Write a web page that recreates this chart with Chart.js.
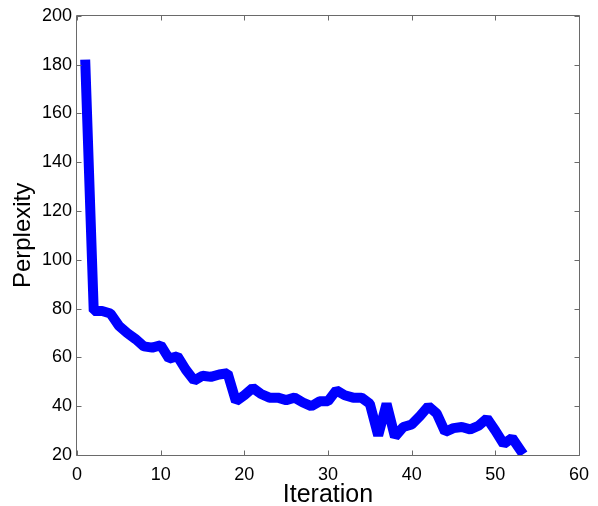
<!DOCTYPE html>
<html>
<head>
<meta charset="utf-8">
<script src="https://cdn.jsdelivr.net/npm/chart.js@4/dist/chart.umd.min.js"></script>
<style>
  html, body { margin: 0; padding: 0; background: #ffffff; }
  canvas { display: block; }
</style>
</head>
<body>
<canvas id="chart" width="598" height="506"></canvas>
<script>
// Perplexity per training iteration
const iterations = [
  1, 2, 3, 4, 5, 6, 7, 8, 9, 10,
  11, 12, 13, 14, 15, 16, 17, 18, 19, 20,
  21, 22, 23, 24, 25, 26, 27, 28, 29, 30,
  31, 32, 33, 34, 35, 36, 37, 38, 39, 40,
  41, 42, 43, 44, 45, 46, 47, 48, 49, 50,
  51, 52, 53
];
const perplexity = [
  180, 79, 79, 78, 73, 70, 67.5, 64.5, 64, 65,
  59.5, 60.5, 55, 50.5, 52.5, 52, 53, 53.5, 42, 44.5,
  47.5, 45, 43.5, 43.5, 42.5, 43.5, 41.5, 40, 42, 42,
  46.5, 44.5, 43.5, 43.5, 41, 28, 41, 27.5, 31.5, 32.5,
  36, 40, 37, 29.5, 31, 31.5, 30.5, 32, 35, 30,
  24.5, 27, 22
];
const xTicks = [0, 10, 20, 30, 40, 50, 60];
const yTicks = [20, 40, 60, 80, 100, 120, 140, 160, 180, 200];
const xTitle = 'Iteration';
const yTitle = 'Perplexity';

const axisColor = '#6a6a6a';
const fontFamily = '"Liberation Sans", Arial, Helvetica, sans-serif';

Chart.defaults.font.family = fontFamily;
Chart.defaults.color = '#000000';

// Box around the plot area with inward-pointing ticks on all four sides
const boxedAxes = {
  id: 'boxedAxes',
  afterDatasetsDraw(chart) {
    const { ctx, chartArea, scales } = chart;
    const L = Math.round(chartArea.left) - 0.5;
    const R = Math.round(chartArea.right) + 0.5;
    const T = Math.round(chartArea.top) - 0.5;
    const B = Math.round(chartArea.bottom) + 0.5;
    const len = 5;
    ctx.save();
    ctx.strokeStyle = axisColor;
    ctx.lineWidth = 1;
    ctx.beginPath();
    ctx.rect(L, T, R - L, B - T);
    xTicks.forEach(v => {
      const px = Math.round(scales.x.getPixelForValue(v)) + 0.5;
      ctx.moveTo(px, B); ctx.lineTo(px, B - len);
      ctx.moveTo(px, T); ctx.lineTo(px, T + len);
    });
    yTicks.forEach(v => {
      const py = Math.round(scales.y.getPixelForValue(v)) + 0.5;
      ctx.moveTo(L, py); ctx.lineTo(L + len, py);
      ctx.moveTo(R, py); ctx.lineTo(R - len, py);
    });
    ctx.stroke();
    ctx.restore();
  }
};

new Chart(document.getElementById('chart'), {
  type: 'line',
  data: {
    datasets: [{
      data: iterations.map((it, i) => ({ x: it, y: perplexity[i] })),
      borderColor: '#0000ff',
      backgroundColor: '#0000ff',
      borderWidth: 10,
      borderCapStyle: 'square',
      borderJoinStyle: 'bevel',
      pointRadius: 0,
      pointHoverRadius: 0,
      tension: 0,
      fill: false,
      clip: 0
    }]
  },
  options: {
    responsive: false,
    animation: false,
    events: [],
    layout: { padding: { top: 15, right: 13, left: 0, bottom: 0 } },
    plugins: {
      legend: { display: false },
      tooltip: { enabled: false }
    },
    scales: {
      x: {
        type: 'linear',
        min: 0,
        max: 60,
        afterBuildTicks: s => { s.ticks = xTicks.map(v => ({ value: v })); },
        afterFit: s => { s.height = 51; },
        grid: { display: false, drawTicks: false },
        border: { display: false },
        ticks: {
          padding: 9,
          maxRotation: 0,
          autoSkip: false,
          font: { size: 18 },
          color: '#000000'
        },
        title: {
          display: true,
          text: xTitle,
          font: { size: 25, lineHeight: 0.84 },
          padding: { top: 0, bottom: 0 },
          color: '#000000'
        }
      },
      y: {
        type: 'linear',
        min: 20,
        max: 200,
        afterBuildTicks: s => { s.ticks = yTicks.map(v => ({ value: v })); },
        afterFit: s => { s.width = 77; },
        grid: { display: false, drawTicks: false },
        border: { display: false },
        ticks: {
          padding: 5,
          autoSkip: false,
          font: { size: 18 },
          color: '#000000'
        },
        title: {
          display: true,
          text: yTitle,
          font: { size: 24, lineHeight: 1 },
          padding: { top: 11, bottom: 0 },
          color: '#000000'
        }
      }
    }
  },
  plugins: [boxedAxes]
});
</script>
</body>
</html>
